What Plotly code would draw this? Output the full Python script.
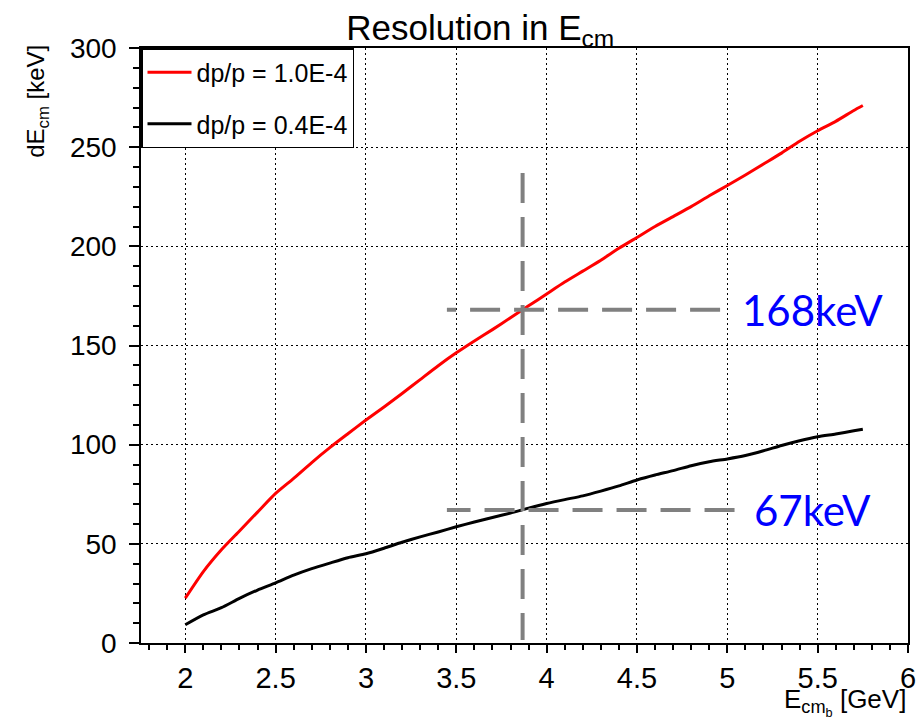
import plotly.graph_objects as go

# Beam energy E_cm [GeV] sampled along both curves
energy = [2.0, 2.1, 2.2, 2.3, 2.4, 2.5, 2.6, 2.7, 2.8, 2.9,
          3.0, 3.1, 3.2, 3.3, 3.4, 3.5, 3.6, 3.7, 3.8, 3.9,
          4.0, 4.1, 4.2, 4.3, 4.4, 4.5, 4.6, 4.7, 4.8, 4.9,
          5.0, 5.1, 5.2, 5.3, 5.4, 5.5, 5.6, 5.7, 5.75]

# dE_cm [keV] for dp/p = 1.0E-4
res_1e4 = [22.6, 36, 47, 56.5, 66, 75.4, 83, 91, 98.5, 105.5,
           112.4, 119, 125.8, 132.8, 139.8, 146.3, 152.3, 158, 164, 170,
           176, 182, 187.5, 193, 199, 204.5, 210, 215, 220, 225.5,
           230.7, 236, 241.5, 247, 253, 258.3, 263, 268.5, 271]

# dE_cm [keV] for dp/p = 0.4E-4
res_04e4 = [9.2, 14.2, 17.8, 22.5, 26.7, 30.3, 34.2, 37.5, 40.3, 43,
            45, 47.8, 50.8, 53.5, 56, 58.6, 61, 63.3, 65.5, 68,
            70.3, 72.3, 74.2, 76.6, 79.2, 82.2, 84.7, 86.9, 89.4, 91.4,
            92.8, 94.5, 96.9, 99.6, 102, 104, 105.4, 107, 107.8]

series_names = ["dp/p = 1.0E-4", "dp/p = 0.4E-4"]

e_point = 3.867
marked_values = [168, 67]
marked_labels = ["168keV", "67keV"]
guide_x_start = 3.448
guide_x_end = [4.96, 5.04]
vline_top = 237
label_x = 5.47

x_ticks = [2, 2.5, 3, 3.5, 4, 4.5, 5, 5.5, 6]
x_tick_text = ["2", "2.5", "3", "3.5", "4", "4.5", "5", "5.5", "6"]
y_ticks = [0, 50, 100, 150, 200, 250, 300]
y_tick_text = ["0", "50", "100", "150", "200", "250", "300"]

FONT = "Liberation Sans, Arial, sans-serif"
GUIDE = dict(color="#808080", width=4, dash="30px,14px")

fig = go.Figure()

fig.add_trace(go.Scatter(x=energy, y=res_1e4, mode="lines", name=series_names[0],
                         legendgroup="a",
                         line=dict(color="#ff0000", width=3, shape="spline", smoothing=0.6)))
fig.add_trace(go.Scatter(x=energy, y=res_04e4, mode="lines", name=series_names[1],
                         legendgroup="b",
                         line=dict(color="#000000", width=3, shape="spline", smoothing=0.6)))

# dashed guide lines at the working point
fig.add_trace(go.Scatter(x=[e_point, e_point], y=[vline_top, 1.5], mode="lines",
                         line=GUIDE, showlegend=False, hoverinfo="skip"))
for val, xe in zip(marked_values, guide_x_end):
    fig.add_trace(go.Scatter(x=[xe, guide_x_start], y=[val, val], mode="lines",
                             line=GUIDE, showlegend=False, hoverinfo="skip"))

for val, txt in zip(marked_values, marked_labels):
    fig.add_annotation(x=label_x, y=val, xref="x", yref="y", text=txt,
                       showarrow=False, xanchor="center", yanchor="middle",
                       font=dict(family="Lato, Carlito, sans-serif", size=42, color="#0000ff"))

# axis titles
fig.add_annotation(xref="paper", yref="paper", x=1.0, y=-0.099, xanchor="right",
                   yanchor="middle", showarrow=False,
                   text="E<sub>cm<sub>b</sub></sub> [GeV]",
                   font=dict(family=FONT, size=26, color="black"))
fig.add_annotation(xref="paper", yref="paper", x=-0.136, y=1.009, xanchor="center",
                   yanchor="top", showarrow=False, textangle=-90,
                   text="dE<sub>cm</sub> [keV]",
                   font=dict(family=FONT, size=24, color="black"))

axis_common = dict(showline=True, linecolor="black", linewidth=1.5, mirror=True,
                   showgrid=True, gridcolor="black", gridwidth=1, griddash="2px,3px",
                   zeroline=False, ticks="outside", tickcolor="black",
                   tickwidth=1.5, automargin=False)

fig.update_xaxes(range=[1.755, 6.0], tickvals=x_ticks, ticktext=x_tick_text,
                 ticklen=8, ticklabelstandoff=0,
                 tickfont=dict(family=FONT, size=29, color="black"),
                 minor=dict(dtick=0.1, tick0=2, ticks="outside", ticklen=5,
                            tickcolor="black", tickwidth=1.5, showgrid=False),
                 **axis_common)
fig.update_yaxes(range=[0, 300], tickvals=y_ticks, ticktext=y_tick_text,
                 ticklen=10, ticklabelstandoff=7,
                 tickfont=dict(family=FONT, size=28, color="black"),
                 minor=dict(dtick=10, tick0=0, ticks="outside", ticklen=6,
                            tickcolor="black", tickwidth=1.5, showgrid=False),
                 **axis_common)

fig.update_layout(
    width=920, height=722,
    margin=dict(l=141, r=12, t=48, b=79, autoexpand=False),
    paper_bgcolor="white", plot_bgcolor="white",
    title=dict(text="Resolution in E<sub>cm</sub>", xref="container", yref="container",
               x=0.522, y=0.962, xanchor="center", yanchor="middle", automargin=False,
               font=dict(family=FONT, size=35, color="black")),
    legend=dict(x=0, y=1, xanchor="left", yanchor="top", bgcolor="white",
                bordercolor="black", borderwidth=1.5, itemwidth=44,
                tracegroupgap=16, font=dict(family=FONT, size=25, color="black")),
    showlegend=True,
)

fig.write_html("out.html")
